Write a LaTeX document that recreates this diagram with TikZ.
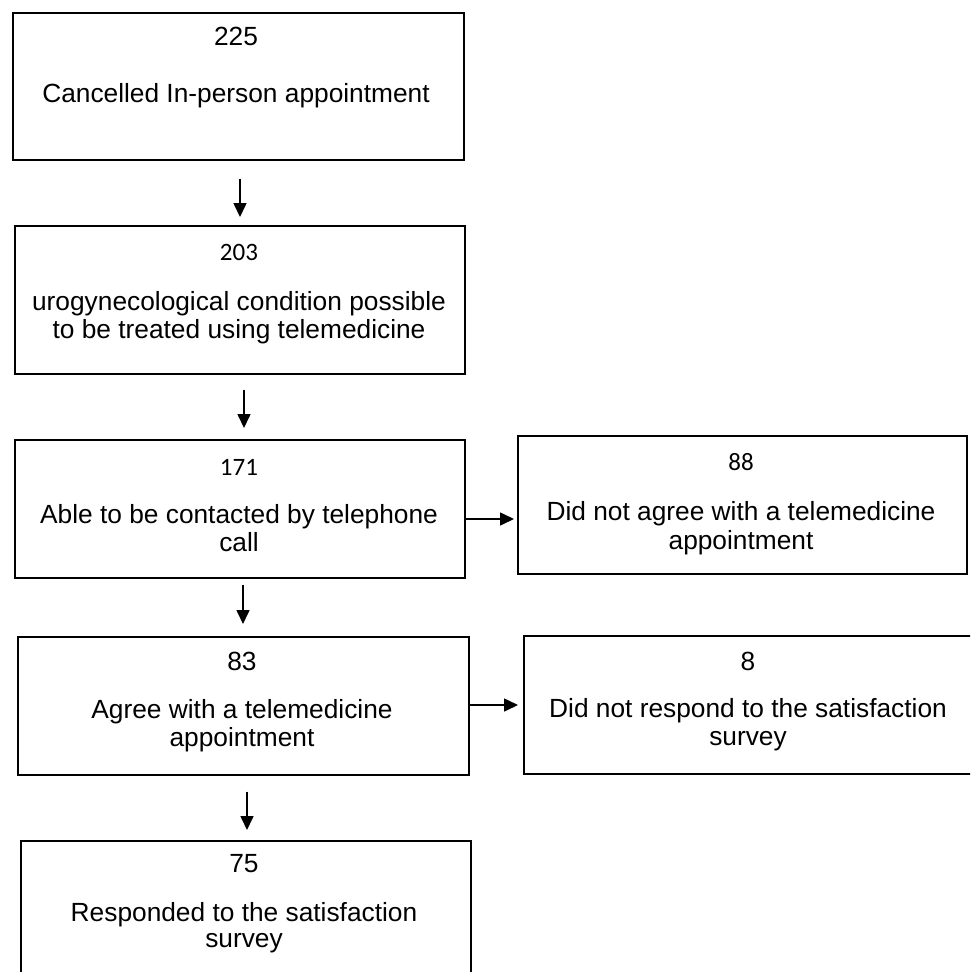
\documentclass[tikz,border=0pt]{standalone}
\usepackage{fontspec}
\setmainfont{Liberation Sans}
\newfontfamily\calib{Carlito}
\usetikzlibrary{arrows.meta}
\begin{document}
\begin{tikzpicture}[x=1pt,y=-1pt,
  box/.style={draw=black, line width=1.6pt, rectangle, inner sep=0pt, anchor=north west},
  lbl/.style={inner sep=0pt, anchor=base, font=\fontsize{26.3}{28}\selectfont},
  num/.style={inner sep=0pt, anchor=base, font=\calib\fontsize{25}{28}\selectfont},
  arr/.style={line width=1.6pt, -{Triangle[length=14pt,width=13pt]}}]
\path[use as bounding box] (0,0) rectangle (970,972);
\clip (0,0) rectangle (970,972);
\fill[white] (0,0) rectangle (970,972);

% boxes
\node[box, minimum width=451pt, minimum height=147pt] (b1) at (12,12) {};
\node[box, minimum width=450pt, minimum height=148pt] (b2) at (14,225) {};
\node[box, minimum width=450pt, minimum height=138pt] (b3) at (14,439) {};
\node[box, minimum width=449pt, minimum height=138pt] (b4) at (517,435) {};
\node[box, minimum width=451pt, minimum height=138pt] (b5) at (17,636) {};
\node[box, minimum width=452pt, minimum height=138pt] (b6) at (523,635) {};
\node[box, minimum width=450pt, minimum height=150pt] (b7) at (20,840) {};

% texts
\node[lbl] (t1n) at (236,45) {225};
\node[lbl] (t1a) at (236,102) {Cancelled In-person appointment};

\node[num] (t2n) at (239,260) {203};
\node[lbl] (t2a) at (239,310) {urogynecological condition possible};
\node[lbl] (t2b) at (239,338) {to be treated using telemedicine};

\node[num] (t3n) at (239,475) {171};
\node[lbl] (t3a) at (239,523) {Able to be contacted by telephone};
\node[lbl] (t3b) at (239,551) {call};

\node[num] (t4n) at (741,470) {88};
\node[lbl] (t4a) at (741,520) {Did not agree with a telemedicine};
\node[lbl] (t4b) at (741,549) {appointment};

\node[lbl] (t5n) at (242,670) {83};
\node[lbl] (t5a) at (242,718) {Agree with a telemedicine};
\node[lbl] (t5b) at (242,746) {appointment};

\node[lbl] (t6n) at (748,670) {8};
\node[lbl] (t6a) at (748,717) {Did not respond to the satisfaction};
\node[lbl] (t6b) at (748,745) {survey};

\node[lbl] (t7n) at (244,872) {75};
\node[lbl] (t7a) at (244,921) {Responded to the satisfaction};
\node[lbl] (t7b) at (244,947) {survey};

% helper coordinates for connector lines
\coordinate (ax1) at (240,0);
\coordinate (ax2) at (244,0);
\coordinate (ax3) at (243,0);
\coordinate (ax4) at (247,0);
\coordinate (ay1) at (0,519);
\coordinate (ay2) at (0,705);

% connectors
\draw[arr, shorten <=18pt, shorten >=8pt] (b1.south -| ax1) -- (b2.north -| ax1);
\draw[arr, shorten <=15pt, shorten >=11pt] (b2.south -| ax2) -- (b3.north -| ax2);
\draw[arr, shorten <=6pt, shorten >=12pt] (b3.south -| ax3) -- (b5.north -| ax3);
\draw[arr, shorten <=16pt, shorten >=10pt] (b5.south -| ax4) -- (b7.north -| ax4);
\draw[arr, shorten >=3pt] (b3.east |- ay1) -- (b4.west |- ay1);
\draw[arr, shorten >=5pt] (b5.east |- ay2) -- (b6.west |- ay2);
\end{tikzpicture}
\end{document}
